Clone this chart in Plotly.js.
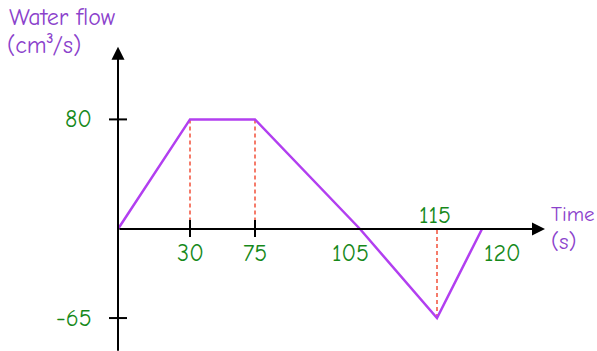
<!DOCTYPE html>
<html>
<head>
<meta charset="utf-8">
<script src="https://cdn.plot.ly/plotly-3.0.1.min.js"></script>
<style>
  html, body { margin: 0; padding: 0; background: #fff; }
  #plot { width: 597px; height: 351px; }
</style>
</head>
<body>
<div id="plot"></div>
<script>
// Time breakpoints (s) and water flow (cm³/s) at each one
let times = [0, 30, 75, 105, 115, 120];
let flow = [0, 80, 80, 0, -65, 0];

// The sketch is not drawn to scale: where each time sits along the time axis
let sketchX = [0, 72, 137, 242, 319, 364];

let yTicks = [80, -65];

let purple = "#b23ff0";
let textPurple = "#8b42cc";
let green = "#16891a";
let red = "#f2503a";
let font = "'Comic Sans MS', 'Comic Neue', 'DejaVu Sans', sans-serif";

// Main flow line
let flowTrace = {
  x: sketchX,
  y: flow,
  type: "scatter",
  mode: "lines",
  line: { color: purple, width: 2.5 },
  hoverinfo: "skip",
};

// Dashed drop lines at 30, 75 and 115
let dropIdx = [1, 2, 4];
let dropTraces = dropIdx.map(function (i) {
  return {
    x: [sketchX[i], sketchX[i]],
    y: [flow[i], 0],
    type: "scatter",
    mode: "lines",
    line: { color: red, width: 1.5, dash: "4px,3px" },
    hoverinfo: "skip",
  };
});

let data = dropTraces.concat([flowTrace]);

let annotations = [];
let shapes = [];

// axes with arrow heads
annotations.push({
  x: 0, y: 133, ax: 0, ay: -90,
  xref: "x", yref: "y", axref: "x", ayref: "y",
  showarrow: true, arrowhead: 2, arrowsize: 1.3, arrowwidth: 2,
  arrowcolor: "#000", text: "", standoff: 0,
});
annotations.push({
  x: 427, y: 0, ax: 0, ay: 0,
  xref: "x", yref: "y", axref: "x", ayref: "y",
  showarrow: true, arrowhead: 2, arrowsize: 1.3, arrowwidth: 2,
  arrowcolor: "#000", text: "", standoff: 0,
});

// tick marks on the time axis (only at 30 and 75)
[1, 2].forEach(function (i) {
  shapes.push({
    type: "line", xref: "x", yref: "y",
    ysizemode: "pixel", yanchor: 0,
    x0: sketchX[i], x1: sketchX[i], y0: -8, y1: 9,
    line: { color: "#000", width: 2 },
  });
});

// tick marks on the flow axis
yTicks.forEach(function (v) {
  shapes.push({
    type: "line", xref: "x", yref: "y",
    xsizemode: "pixel", xanchor: 0,
    x0: -9, x1: 9, y0: v, y1: v,
    line: { color: "#000", width: 2 },
  });
});

// time labels: shift tweaks to sit like the sketch
let xLabelShift = { 30: [0, -24], 75: [0, -24], 105: [-10, -24], 115: [-2, 14], 120: [20, -24] };
for (let i = 1; i < times.length; i++) {
  let s = xLabelShift[times[i]];
  annotations.push({
    x: sketchX[i], y: 0, xref: "x", yref: "y",
    text: String(times[i]), showarrow: false,
    xshift: s[0], yshift: s[1],
    font: { family: font, size: 24, color: green },
  });
}

// flow labels
yTicks.forEach(function (v) {
  annotations.push({
    x: 0, y: v, xref: "x", yref: "y",
    text: String(v), showarrow: false,
    xanchor: "right", xshift: -24,
    font: { family: font, size: 24, color: green },
  });
});

// axis titles
annotations.push({
  x: 7 / 597, y: 1 - 17 / 351, xref: "paper", yref: "paper",
  text: "Water flow", showarrow: false, xanchor: "left", yanchor: "middle",
  font: { family: font, size: 24, color: textPurple },
});
annotations.push({
  x: 5 / 597, y: 1 - 45 / 351, xref: "paper", yref: "paper",
  text: "(cm\u00b3/s)", showarrow: false, xanchor: "left", yanchor: "middle",
  font: { family: font, size: 24, color: textPurple },
});
annotations.push({
  x: 549 / 597, y: 1 - 214 / 351, xref: "paper", yref: "paper",
  text: "Time", showarrow: false, xanchor: "left", yanchor: "middle",
  font: { family: font, size: 21, color: textPurple },
});
annotations.push({
  x: 549 / 597, y: 1 - 241 / 351, xref: "paper", yref: "paper",
  text: "(s)", showarrow: false, xanchor: "left", yanchor: "middle",
  font: { family: font, size: 23, color: textPurple },
});

let layout = {
  width: 597,
  height: 351,
  margin: { l: 0, r: 0, t: 0, b: 0 },
  paper_bgcolor: "#fff",
  plot_bgcolor: "#fff",
  showlegend: false,
  xaxis: {
    range: [-118, 479],
    showgrid: false, zeroline: false, showticklabels: false, showline: false,
    fixedrange: true,
  },
  yaxis: {
    range: [-89.05, 167.15],
    showgrid: false, zeroline: false, showticklabels: false, showline: false,
    fixedrange: true,
  },
  shapes: shapes,
  annotations: annotations,
};

Plotly.newPlot("plot", data, layout, { displayModeBar: false, staticPlot: true });
</script>
</body>
</html>
